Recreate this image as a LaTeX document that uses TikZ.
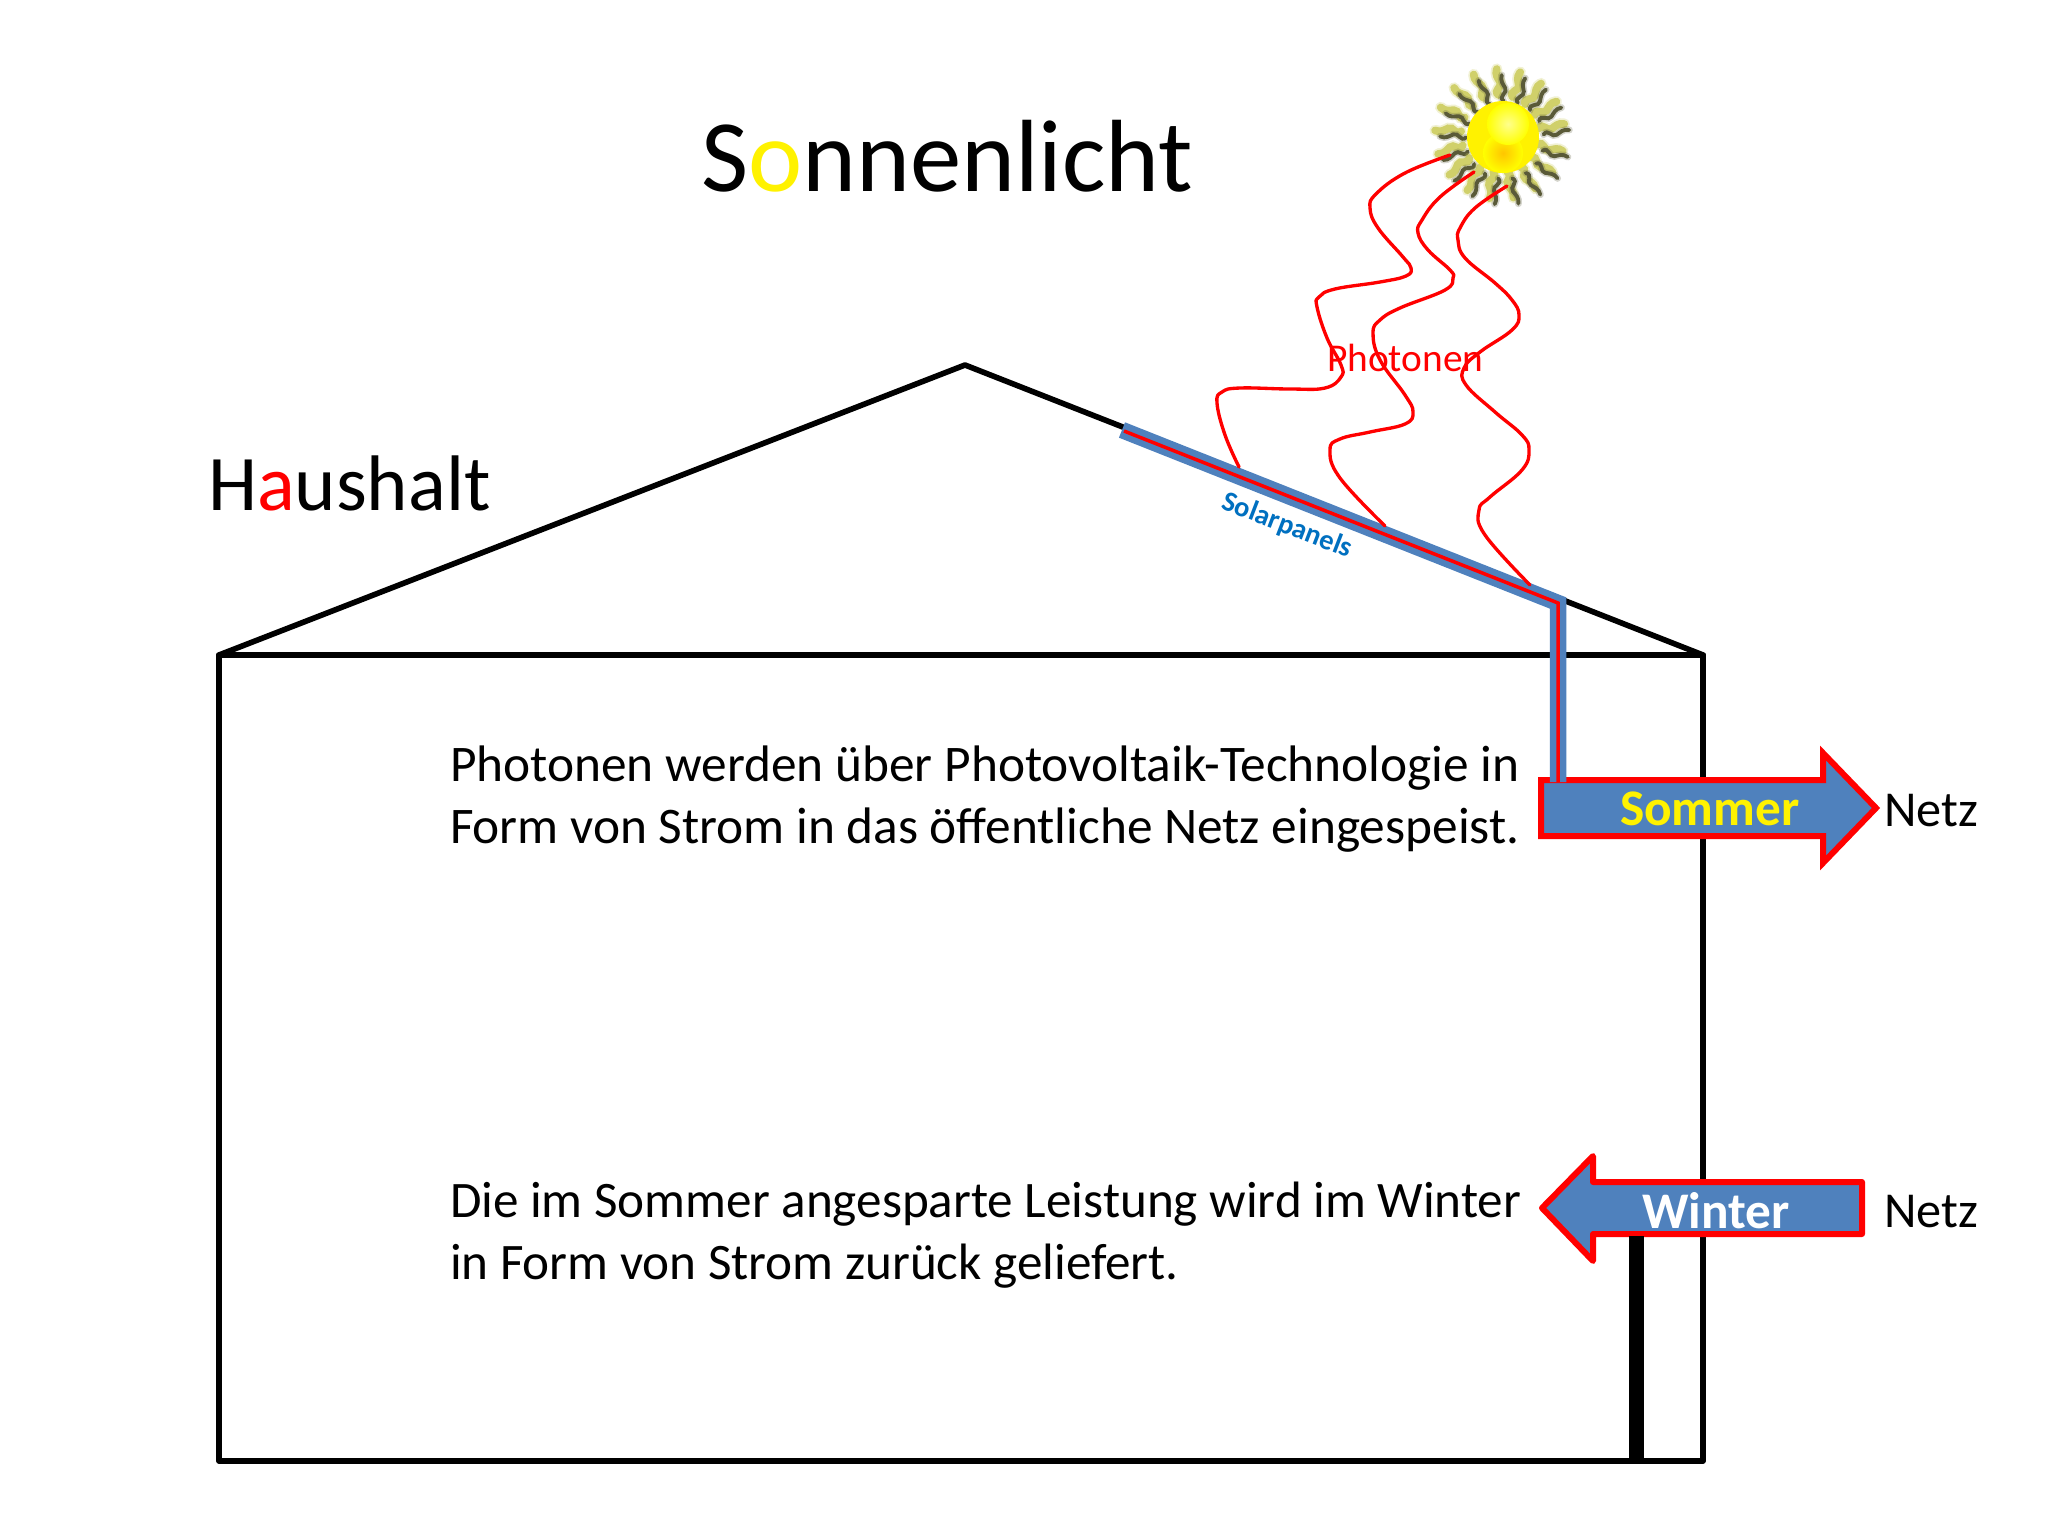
\documentclass[tikz,border=0pt]{standalone}
\usepackage{fontspec}
\setmainfont{Carlito}
\definecolor{panelblue}{HTML}{4F81BD}
\definecolor{labelblue}{HTML}{0070C0}
\definecolor{rayDark}{HTML}{5A5A38}
\definecolor{rayLight}{HTML}{C8C850}
\tikzset{
  wall/.style={draw=black,line width=1.6pt,line join=round,line cap=round},
  photon/.style={draw=red,line width=0.95pt,line cap=round,line join=round},
  txt/.style={anchor=base west,inner sep=0pt,outer sep=0pt},
  flowarrow/.style={draw=red,fill=panelblue,line width=1.7pt},
}
\newcommand{\rayshape}{(39,0) .. controls (44,-6) and (47,5) .. (52,2) .. controls (56,0) and (59,-3) .. (65,-1)}
\begin{document}
\begin{tikzpicture}[x=0.01cm,y=-0.01cm]
\useasboundingbox (0,0) rectangle (2048,1536);
\fill[white] (0,0) rectangle (2048,1536);
% house
\draw[wall] (219,655) -- (965,365) -- (1703,655) -- cycle;
\draw[wall] (219,655) -- (219,1461) -- (1703,1461) -- (1703,655);
% arrows
\draw[flowarrow,miter limit=10] (1541,780) -- (1823,780) -- (1823,753) -- (1876,808) -- (1823,863) -- (1823,836) -- (1541,836) -- cycle;
\draw[flowarrow,line join=round] (1542,1208) -- (1593,1156) -- (1593,1182) -- (1862,1182) -- (1862,1234) -- (1593,1234) -- (1593,1261) -- cycle;
\fill[black] (1629,1236) rectangle (1644,1461);
% panel
\draw[panelblue,line width=4.7pt,line join=miter] (1122,430) -- (1558,603) -- (1558,782);
\draw[red,line width=1pt,line join=miter] (1124,431) -- (1558,603) -- (1558,782);
% sun
\foreach \a in {0,21,...,340}{
  \begin{scope}[shift={(1500,134)},rotate=\a+8]
    \draw[rayLight,opacity=.25,line width=3.2pt,line cap=round] \rayshape;
    \draw[rayLight,opacity=.8,line width=2.2pt,line cap=round] \rayshape;
  \end{scope}
  \begin{scope}[shift={(1505,140)},rotate=\a+8]
    \draw[rayDark,opacity=.25,line width=2pt,line cap=round] \rayshape;
    \draw[rayDark,line width=1.1pt,line cap=round] \rayshape;
  \end{scope}
}
\fill[yellow] (1503,137) circle (36);
\shade[inner color=orange!45!yellow,outer color=yellow] (1503,153) circle (20);
\shade[inner color=yellow!45!white,outer color=yellow] (1508,124) circle (21);
% photons
\draw[photon] plot[smooth,tension=0.7] coordinates {(1450,155) (1405,173) (1376,194) (1370,208) (1378,228) (1403,257) (1411,268) (1406,276) (1380,282) (1335,289) (1319,297) (1317,307) (1327,338) (1341,365) (1341,377) (1325,388) (1290,389) (1240,388) (1222,392) (1217,403) (1225,435) (1239,467)};
\draw[photon] plot[smooth,tension=0.7] coordinates {(1474,172) (1440,197) (1422,220) (1418,233) (1428,250) (1450,270) (1453,278) (1445,290) (1400,308) (1380,320) (1373,333) (1380,360) (1405,395) (1413,412) (1405,424) (1370,432) (1340,439) (1330,450) (1340,478) (1385,526)};
\draw[photon] plot[smooth,tension=0.7] coordinates {(1507,186) (1475,208) (1460,228) (1458,240) (1465,258) (1495,283) (1512,300) (1519,315) (1512,330) (1480,352) (1464,368) (1466,385) (1495,412) (1522,435) (1529,450) (1522,470) (1490,497) (1479,510) (1485,535) (1530,585)};
% text
\node[txt,font=\fontsize{29.2pt}{35pt}\selectfont] (title) at (701,191) {S\textcolor{yellow}{o}nnenlicht};
\node[txt,font=\fontsize{22.4pt}{27pt}\selectfont] (haus) at (208,510) {H\textcolor{red}{a}ushalt};
\node[txt,red,font=\fontsize{11.2pt}{13pt}\selectfont] (phot) at (1327,371) {Photonen};
\node[labelblue,inner sep=0pt,rotate=-21,font=\bfseries\fontsize{8.1pt}{9pt}\selectfont] (solar) at (1287,526) {Solarpanels};
\node[txt,font=\fontsize{14.6pt}{16pt}\selectfont] (t1) at (450,781) {Photonen werden über Photovoltaik-Technologie in};
\node[txt,font=\fontsize{14.6pt}{16pt}\selectfont] (t2) at (450,843) {Form von Strom in das öffentliche Netz eingespeist.};
\node[txt,font=\fontsize{14.55pt}{16pt}\selectfont] (t3) at (450,1217) {Die im Sommer angesparte Leistung wird im Winter};
\node[txt,font=\fontsize{14.55pt}{16pt}\selectfont] (t4) at (450,1279) {in Form von Strom zurück geliefert.};
\node[txt,yellow,font=\bfseries\fontsize{14.6pt}{17pt}\selectfont] (sommer) at (1620,825) {Sommer};
\node[txt,white,font=\bfseries\fontsize{14.6pt}{17pt}\selectfont] (winter) at (1642,1228) {Winter};
\node[txt,font=\fontsize{14.3pt}{16pt}\selectfont] (n1) at (1884,826) {Netz};
\node[txt,font=\fontsize{14.3pt}{16pt}\selectfont] (n2) at (1884,1227) {Netz};
\end{tikzpicture}
\end{document}
